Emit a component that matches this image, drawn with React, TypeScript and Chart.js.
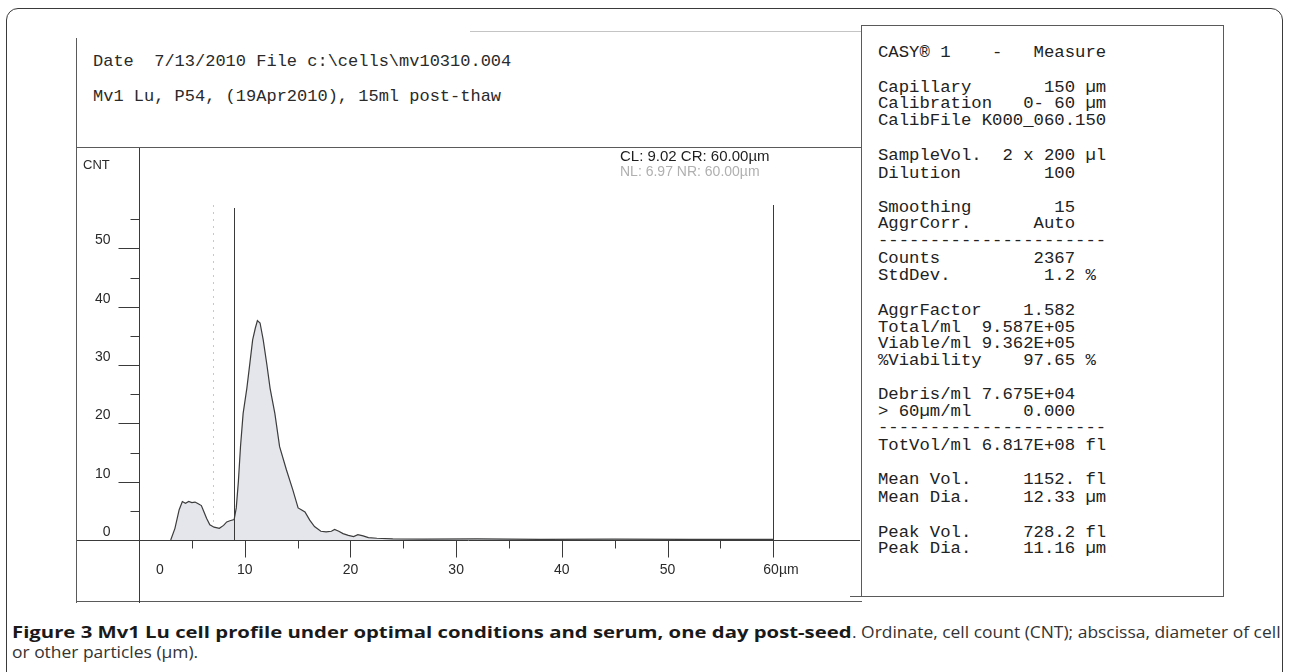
import React, { useEffect, useLayoutEffect, useRef } from "react";
import { Chart, registerables } from "chart.js";

Chart.register(...registerables);

// ---------- data ----------
const diameters = [3.0, 3.4, 3.8, 4.1, 4.4, 4.7, 5.0, 5.3, 5.6, 5.9, 6.1, 6.4, 6.7, 7.1, 7.6, 8.0, 8.3, 8.6, 9.0, 9.2, 9.4, 9.6, 9.85, 10.2, 10.5, 10.75, 11.0, 11.2, 11.45, 11.75, 12.1, 12.4, 12.85, 13.3, 13.95, 14.55, 15.05, 15.35, 15.7, 16.15, 16.6, 17.2, 17.7, 18.2, 18.5, 18.9, 19.3, 19.8, 20.3, 20.7, 21.2, 21.7, 22.5, 24, 27, 32, 38, 45, 52, 60];
const counts = [0, 2.0, 5.2, 6.6, 6.3, 6.6, 6.4, 6.5, 6.2, 5.9, 5.0, 3.7, 2.6, 2.2, 2.0, 2.5, 3.1, 3.3, 3.5, 5.5, 10.0, 16.0, 21.7, 26.0, 30.5, 34.3, 36.3, 37.6, 37.2, 34.3, 30.0, 26.0, 21.7, 16.0, 12.0, 8.6, 5.5, 5.2, 4.8, 3.4, 2.3, 1.5, 1.4, 1.5, 1.8, 1.5, 1.1, 0.8, 0.6, 0.9, 0.7, 0.4, 0.3, 0.2, 0.15, 0.2, 0.1, 0.15, 0.1, 0.1];

const yLabelValues = [0, 10, 20, 30, 40, 50];
const yMajorTicks = [10, 20, 30, 40, 50];
const yMinorTicks = [5, 15, 25, 35, 45, 55];
const xLabelValues = [0, 10, 20, 30, 40, 50, 60];
const xLabelTexts = ["0", "10", "20", "30", "40", "50", "60µm"];
const xMajorTicks = [10, 20, 30, 40, 50, 60];
const xMinorTicks = [5, 15, 25, 35, 45, 55];
const cursorLeft = 9.02;
const cursorRight = 60.0;
const noiseLeft = 6.97;
const cursorTop = 57.5;
const cursorText = "CL: 9.02 CR: 60.00µm";
const noiseText = "NL: 6.97 NR: 60.00µm";
const yAxisTitle = "CNT";

const headerLines = [
  "Date  7/13/2010 File c:\\cells\\mv10310.004",
  "Mv1 Lu, P54, (19Apr2010), 15ml post-thaw",
];

const panelLines: [string, number][] = [
  ["CASY® 1    -   Measure", 51.7],
  ["Capillary       150 µm", 86.7],
  ["Calibration   0- 60 µm", 103.3],
  ["CalibFile K000_060.150", 120],
  ["SampleVol.  2 x 200 µl", 155],
  ["Dilution        100", 172.7],
  ["Smoothing        15", 206.7],
  ["AggrCorr.      Auto", 223.3],
  ["----------------------", 239.5],
  ["Counts         2367", 258.3],
  ["StdDev.         1.2 %", 275],
  ["AggrFactor    1.582", 310],
  ["Total/ml  9.587E+05", 326.7],
  ["Viable/ml 9.362E+05", 343.3],
  ["%Viability    97.65 %", 360.3],
  ["Debris/ml 7.675E+04", 394.3],
  ["> 60µm/ml     0.000", 411.3],
  ["----------------------", 427],
  ["TotVol/ml 6.817E+08 fl", 445],
  ["Mean Vol.     1152. fl", 479.3],
  ["Mean Dia.     12.33 µm", 496.7],
  ["Peak Vol.     728.2 fl", 531.7],
  ["Peak Dia.     11.16 µm", 548.3],
];

const captionBold = "Figure 3 Mv1 Lu cell profile under optimal conditions and serum, one day post-seed";
const captionRest = ". Ordinate, cell count (CNT); abscissa, diameter of cell";
const captionLine2 = "or other particles (µm).";

const SANS = '"Liberation Sans", Arial, sans-serif';
const MONO = '"Liberation Mono", "Courier New", monospace';
const CAPTION_FONT = '"Open Sans", "Noto Sans", sans-serif';

const casyAxes = {
  id: "casyAxes",
  beforeDatasetsDraw(chart: any) {
    const { ctx, scales } = chart;
    const x = scales.x, y = scales.y;
    const y0 = Math.round(y.getPixelForValue(0));
    const xn = Math.round(x.getPixelForValue(noiseLeft)) + 0.5;
    ctx.save();
    ctx.strokeStyle = "#c8c8c8";
    ctx.lineWidth = 1;
    ctx.setLineDash([2, 5]);
    ctx.beginPath();
    ctx.moveTo(xn, Math.round(y.getPixelForValue(cursorTop)));
    ctx.lineTo(xn, y0);
    ctx.stroke();
    ctx.restore();
  },
  afterDatasetsDraw(chart: any) {
    const { ctx, scales } = chart;
    const x = scales.x, y = scales.y;
    const x0 = Math.round(x.getPixelForValue(0)) + 0.5;
    const y0 = Math.round(y.getPixelForValue(0)) + 0.5;
    ctx.save();
    ctx.strokeStyle = "#3a3a3a";
    ctx.lineWidth = 1;
    const line = (a: number, b: number, c: number, d: number) => {
      ctx.beginPath();
      ctx.moveTo(a, b);
      ctx.lineTo(c, d);
      ctx.stroke();
    };
    // axes crossing lines
    line(0, y0, chart.width, y0);
    line(x0, 0, x0, chart.height);
    // y ticks
    yMajorTicks.forEach((v) => {
      const p = Math.round(y.getPixelForValue(v)) + 0.5;
      line(x0 - 21, p, x0, p);
    });
    yMinorTicks.forEach((v) => {
      const p = Math.round(y.getPixelForValue(v)) + 0.5;
      line(x0 - 9, p, x0, p);
    });
    // x ticks
    xMajorTicks.forEach((v) => {
      const p = Math.round(x.getPixelForValue(v)) + 0.5;
      line(p, y0, p, y0 + 17);
    });
    xMinorTicks.forEach((v) => {
      const p = Math.round(x.getPixelForValue(v)) + 0.5;
      line(p, y0, p, y0 + 8);
    });
    // cursors
    const top = Math.round(y.getPixelForValue(cursorTop));
    const cl = Math.round(x.getPixelForValue(cursorLeft)) + 0.5;
    const cr = Math.round(x.getPixelForValue(cursorRight)) + 0.5;
    line(cl, top + 3, cl, y0);
    line(cr, top, cr, y0);

    // labels
    ctx.fillStyle = "#2a2a2a";
    ctx.font = `14px ${SANS}`;
    ctx.textBaseline = "middle";
    ctx.textAlign = "right";
    yLabelValues.forEach((v) => {
      ctx.fillText(String(v), x0 - 29, y.getPixelForValue(v) - 8);
    });
    xLabelValues.forEach((v, i) => {
      const p = x.getPixelForValue(v);
      if (i === 0) {
        ctx.textAlign = "center";
        ctx.fillText(xLabelTexts[i], p + 21, y0 + 30);
      } else if (i === xLabelValues.length - 1) {
        ctx.textAlign = "left";
        ctx.fillText(xLabelTexts[i], p - 10, y0 + 30);
      } else {
        ctx.textAlign = "center";
        ctx.fillText(xLabelTexts[i], p, y0 + 30);
      }
    });
    ctx.textAlign = "left";
    ctx.font = `13px ${SANS}`;
    ctx.fillText(yAxisTitle, 6, 17);
    ctx.font = `15px ${SANS}`;
    ctx.fillStyle = "#1e1e1e";
    ctx.fillText(cursorText, 543, 8.5);
    ctx.font = `14px ${SANS}`;
    ctx.fillStyle = "#b0b0b0";
    ctx.fillText(noiseText, 543, 24);
    ctx.restore();
  },
};

function HLine({ x1, x2, y, color = "#5a5a5a" }: { x1: number; x2: number; y: number; color?: string }) {
  return <div style={{ position: "absolute", left: x1, top: y, width: x2 - x1, height: 1, background: color }} />;
}
function VLine({ y1, y2, x, color = "#5a5a5a" }: { y1: number; y2: number; x: number; color?: string }) {
  return <div style={{ position: "absolute", left: x, top: y1, width: 1, height: y2 - y1, background: color }} />;
}

export default function App() {
  const canvasRef = useRef<HTMLCanvasElement | null>(null);
  const boldRef = useRef<HTMLDivElement | null>(null);
  const restRef = useRef<HTMLDivElement | null>(null);
  const line2Ref = useRef<HTMLDivElement | null>(null);

  useLayoutEffect(() => {
    const b = boldRef.current, r = restRef.current, l2 = line2Ref.current;
    if (!b || !r || !l2) return;
    const wb = b.scrollWidth, wr = r.scrollWidth;
    const sb = 840 / wb;
    const sr = 428 / wr;
    b.style.transform = `scaleX(${sb})`;
    r.style.transform = `scaleX(${sr})`;
    l2.style.transform = `scaleX(${sr})`;
  }, []);

  useEffect(() => {
    const canvas = canvasRef.current;
    if (!canvas) return;
    const chart = new Chart(canvas, {
      type: "line",
      data: {
        datasets: [
          {
            data: diameters.map((d, i) => ({ x: d, y: counts[i] })),
            borderColor: "#3c3c3c",
            borderWidth: 1.2,
            backgroundColor: "#e4e6eb",
            fill: "origin",
            pointRadius: 0,
            tension: 0,
          },
        ],
      },
      options: {
        responsive: false,
        animation: false,
        devicePixelRatio: 1,
        layout: { padding: { left: 62, right: 0, top: 0, bottom: 63 } },
        plugins: { legend: { display: false }, tooltip: { enabled: false } },
        scales: {
          x: { type: "linear", min: 0, max: 68.2, display: false },
          y: { type: "linear", min: 0, max: 67.2, display: false },
        },
      },
      plugins: [casyAxes],
    });
    return () => chart.destroy();
  }, []);

  return (
    <div style={{ position: "relative", width: 1289, height: 672, overflow: "hidden", background: "#fff" }}>
      <style>{`body{margin:0;}`}</style>
      {/* outer rounded frame */}
      <div
        style={{
          position: "absolute",
          left: 6,
          top: 8,
          width: 1277,
          height: 700,
          border: "1.5px solid #3a3a3a",
          borderRadius: 12,
          boxSizing: "border-box",
        }}
      />
      {/* scanned figure boxes */}
      <HLine x1={470} x2={862} y={31} color="#c4c4c4" />
      <VLine x={76} y1={38} y2={603} />
      <HLine x1={76} x2={862} y={147} />
      <HLine x1={76} x2={862} y={601} />
      <VLine x={861} y1={25} y2={597} />
      <HLine x1={861} x2={1224} y={25} />
      <VLine x={1223} y1={25} y2={597} />
      <HLine x1={850} x2={1224} y={596} />

      {/* header text */}
      {headerLines.map((t, i) => (
        <div
          key={i}
          style={{
            position: "absolute",
            left: 93,
            top: (i === 0 ? 60.7 : 96) - 9,
            height: 20,
            lineHeight: "20px",
            fontFamily: MONO,
            fontSize: 17,
            color: "#2a2a2a",
            whiteSpace: "pre",
          }}
        >
          {t}
        </div>
      ))}

      {/* right panel text */}
      {panelLines.map(([t, yc], i) => (
        <div
          key={i}
          style={{
            position: "absolute",
            left: 878,
            top: yc - 9,
            height: 20,
            lineHeight: "20px",
            fontFamily: MONO,
            fontSize: 17.3,
            color: "#222",
            whiteSpace: "pre",
          }}
        >
          {t}
        </div>
      ))}

      <canvas
        ref={canvasRef}
        width={783}
        height={455}
        style={{ position: "absolute", left: 77, top: 148, width: 783, height: 455 }}
      />

      {/* caption */}
      <div
        ref={boldRef}
        style={{
          position: "absolute",
          left: 12,
          top: 622,
          height: 20,
          lineHeight: "20px",
          fontFamily: CAPTION_FONT,
          fontWeight: 700,
          fontSize: 16,
          color: "#1a1a1a",
          whiteSpace: "pre",
          transformOrigin: "0 50%",
        }}
      >
        {captionBold}
      </div>
      <div
        ref={restRef}
        style={{
          position: "absolute",
          left: 852,
          top: 622,
          height: 20,
          lineHeight: "20px",
          fontFamily: CAPTION_FONT,
          fontWeight: 400,
          fontSize: 16,
          color: "#333",
          whiteSpace: "pre",
          transformOrigin: "0 50%",
        }}
      >
        {captionRest}
      </div>
      <div
        ref={line2Ref}
        style={{
          position: "absolute",
          left: 12,
          top: 642,
          height: 20,
          lineHeight: "20px",
          fontFamily: CAPTION_FONT,
          fontWeight: 400,
          fontSize: 16,
          color: "#333",
          whiteSpace: "pre",
          transformOrigin: "0 50%",
        }}
      >
        {captionLine2}
      </div>
    </div>
  );
}
